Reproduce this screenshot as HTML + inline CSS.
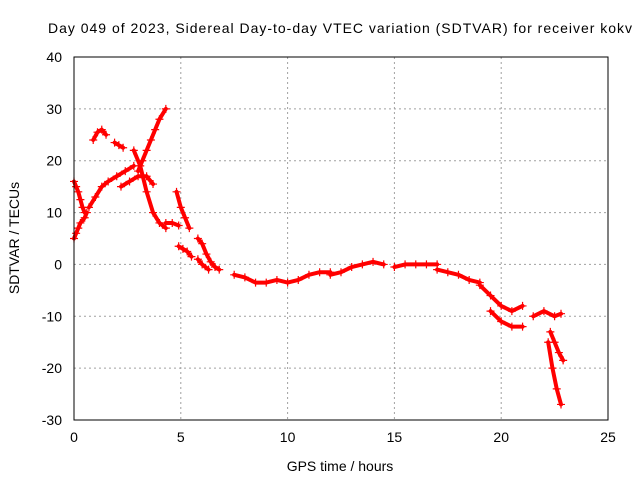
<!DOCTYPE html>
<html><head><meta charset="utf-8"><style>
body{margin:0;background:#fff}
svg{display:block;font-family:"Liberation Sans",sans-serif}
</style></head><body>
<svg id="chart" width="640" height="480">
<rect width="640" height="480" fill="#fff"/>
<text x="340" y="33" font-size="14" text-anchor="middle" textLength="584">Day 049 of 2023, Sidereal Day-to-day VTEC variation (SDTVAR) for receiver kokv</text>
<text x="340" y="471" font-size="14" text-anchor="middle">GPS time / hours</text>
<text x="19" y="238" font-size="14" text-anchor="middle" transform="rotate(-90 19 238)">SDTVAR / TECUs</text>
<g id="grid"></g><g id="ticks"></g><g id="marks"></g>
<rect x="74" y="57" width="534" height="363" fill="none" stroke="#000"/>
</svg>
<script>
const xTicks=[0,5,10,15,20,25];
const yTicks=[-30,-20,-10,0,10,20,30,40];
const tracks=[
 {t:[0,0.1,0.2,0.3,0.4,0.5],v:[16,15,14,12.5,11,10]},
 {t:[0,0.1,0.2,0.3,0.5,0.6],v:[5,6,7,8,9,10]},
 {t:[0.7,1.0,1.3,1.6,2.0,2.4,2.8],v:[11,13,15,16,17,18,19]},
 {t:[0.9,1.1,1.3,1.5],v:[24,25.5,26,25]},
 {t:[1.9,2.1,2.3],v:[23.5,23,22.5]},
 {t:[2.2,2.6,3.0,3.4,3.7],v:[15,16,17,17,15.5]},
 {t:[3.0,3.2,3.4,3.6,3.8,4.0,4.3],v:[18,20,22,24,26,28,30]},
 {t:[2.8,3.1,3.4,3.7,4.0,4.3],v:[22,19,14,10,8,7]},
 {t:[4.8,5.0,5.2,5.4],v:[14,11,9,7]},
 {t:[4.3,4.6,4.9],v:[8,8,7.5]},
 {t:[4.9,5.1,5.3,5.5],v:[3.5,3,2.5,1.5]},
 {t:[5.8,6.0,6.2,6.4,6.6,6.8],v:[5,4,2,0.5,-0.5,-1]},
 {t:[5.8,6.0,6.3],v:[1,0,-1]},
 {t:[7.5,8,8.5,9,9.5,10,10.5,11,11.5,12],v:[-2,-2.5,-3.5,-3.5,-3,-3.5,-3,-2,-1.5,-1.5]},
 {t:[12,12.5,13,13.5,14,14.5],v:[-2,-1.5,-0.5,0,0.5,0]},
 {t:[15,15.5,16,16.5,17],v:[-0.5,0,0,0,0]},
 {t:[17,17.5,18,18.5,19],v:[-1,-1.5,-2,-3,-3.5]},
 {t:[19,19.5,20,20.5,21],v:[-4,-6,-8,-9,-8]},
 {t:[19.5,20,20.5,21],v:[-9,-11,-12,-12]},
 {t:[21.5,22,22.5,22.8],v:[-10,-9,-10,-9.5]},
 {t:[22.2,22.4,22.6,22.8],v:[-15,-20,-24,-27]},
 {t:[22.3,22.5,22.7,22.9],v:[-13,-15,-17,-18.5]}
];
const NS="http://www.w3.org/2000/svg";
const X=t=>74+t/25*534, Y=v=>57+(40-v)/70*363;
const grid=document.getElementById('grid'),ticks=document.getElementById('ticks'),marks=document.getElementById('marks');
function mk(tag,a,p){const e=document.createElementNS(NS,tag);for(const k in a)e.setAttribute(k,a[k]);p.appendChild(e);return e;}
xTicks.forEach(t=>{
 const x=X(t);
 if(t>0&&t<25){const g=mk('line',{x1:x,x2:x,y1:57,y2:420,stroke:'#a0a0a0','stroke-dasharray':'2,3'},grid);
 
 }
 const l=mk('text',{x:x,y:442,'font-size':14,'text-anchor':'middle'},ticks);l.textContent=t;
 
 
});
yTicks.forEach(v=>{
 const y=Y(v);
 if(v>-30&&v<40){const g=mk('line',{x1:74,x2:608,y1:y,y2:y,stroke:'#a0a0a0','stroke-dasharray':'2,3'},grid);
 
 }
 const l=mk('text',{x:62,y:y+5,'font-size':14,'text-anchor':'end'},ticks);l.textContent=v;
 
 
});
tracks.forEach(tr=>{
 const pts=tr.t.map((t,i)=>X(t)+','+Y(tr.v[i])).join(' ');
 const pl=mk('polyline',{points:pts,fill:'none',stroke:'#ff0000','stroke-width':4,'stroke-linejoin':'round','stroke-linecap':'round'},marks);
 
 
 tr.t.forEach((t,i)=>{
  const x=X(t),y=Y(tr.v[i]);
  const p=mk('path',{d:`M${x-4},${y}h8M${x},${y-4}v8`,stroke:'#ff0000','stroke-width':1.2},marks);
  
  
 });
});
</script>
</body></html>
